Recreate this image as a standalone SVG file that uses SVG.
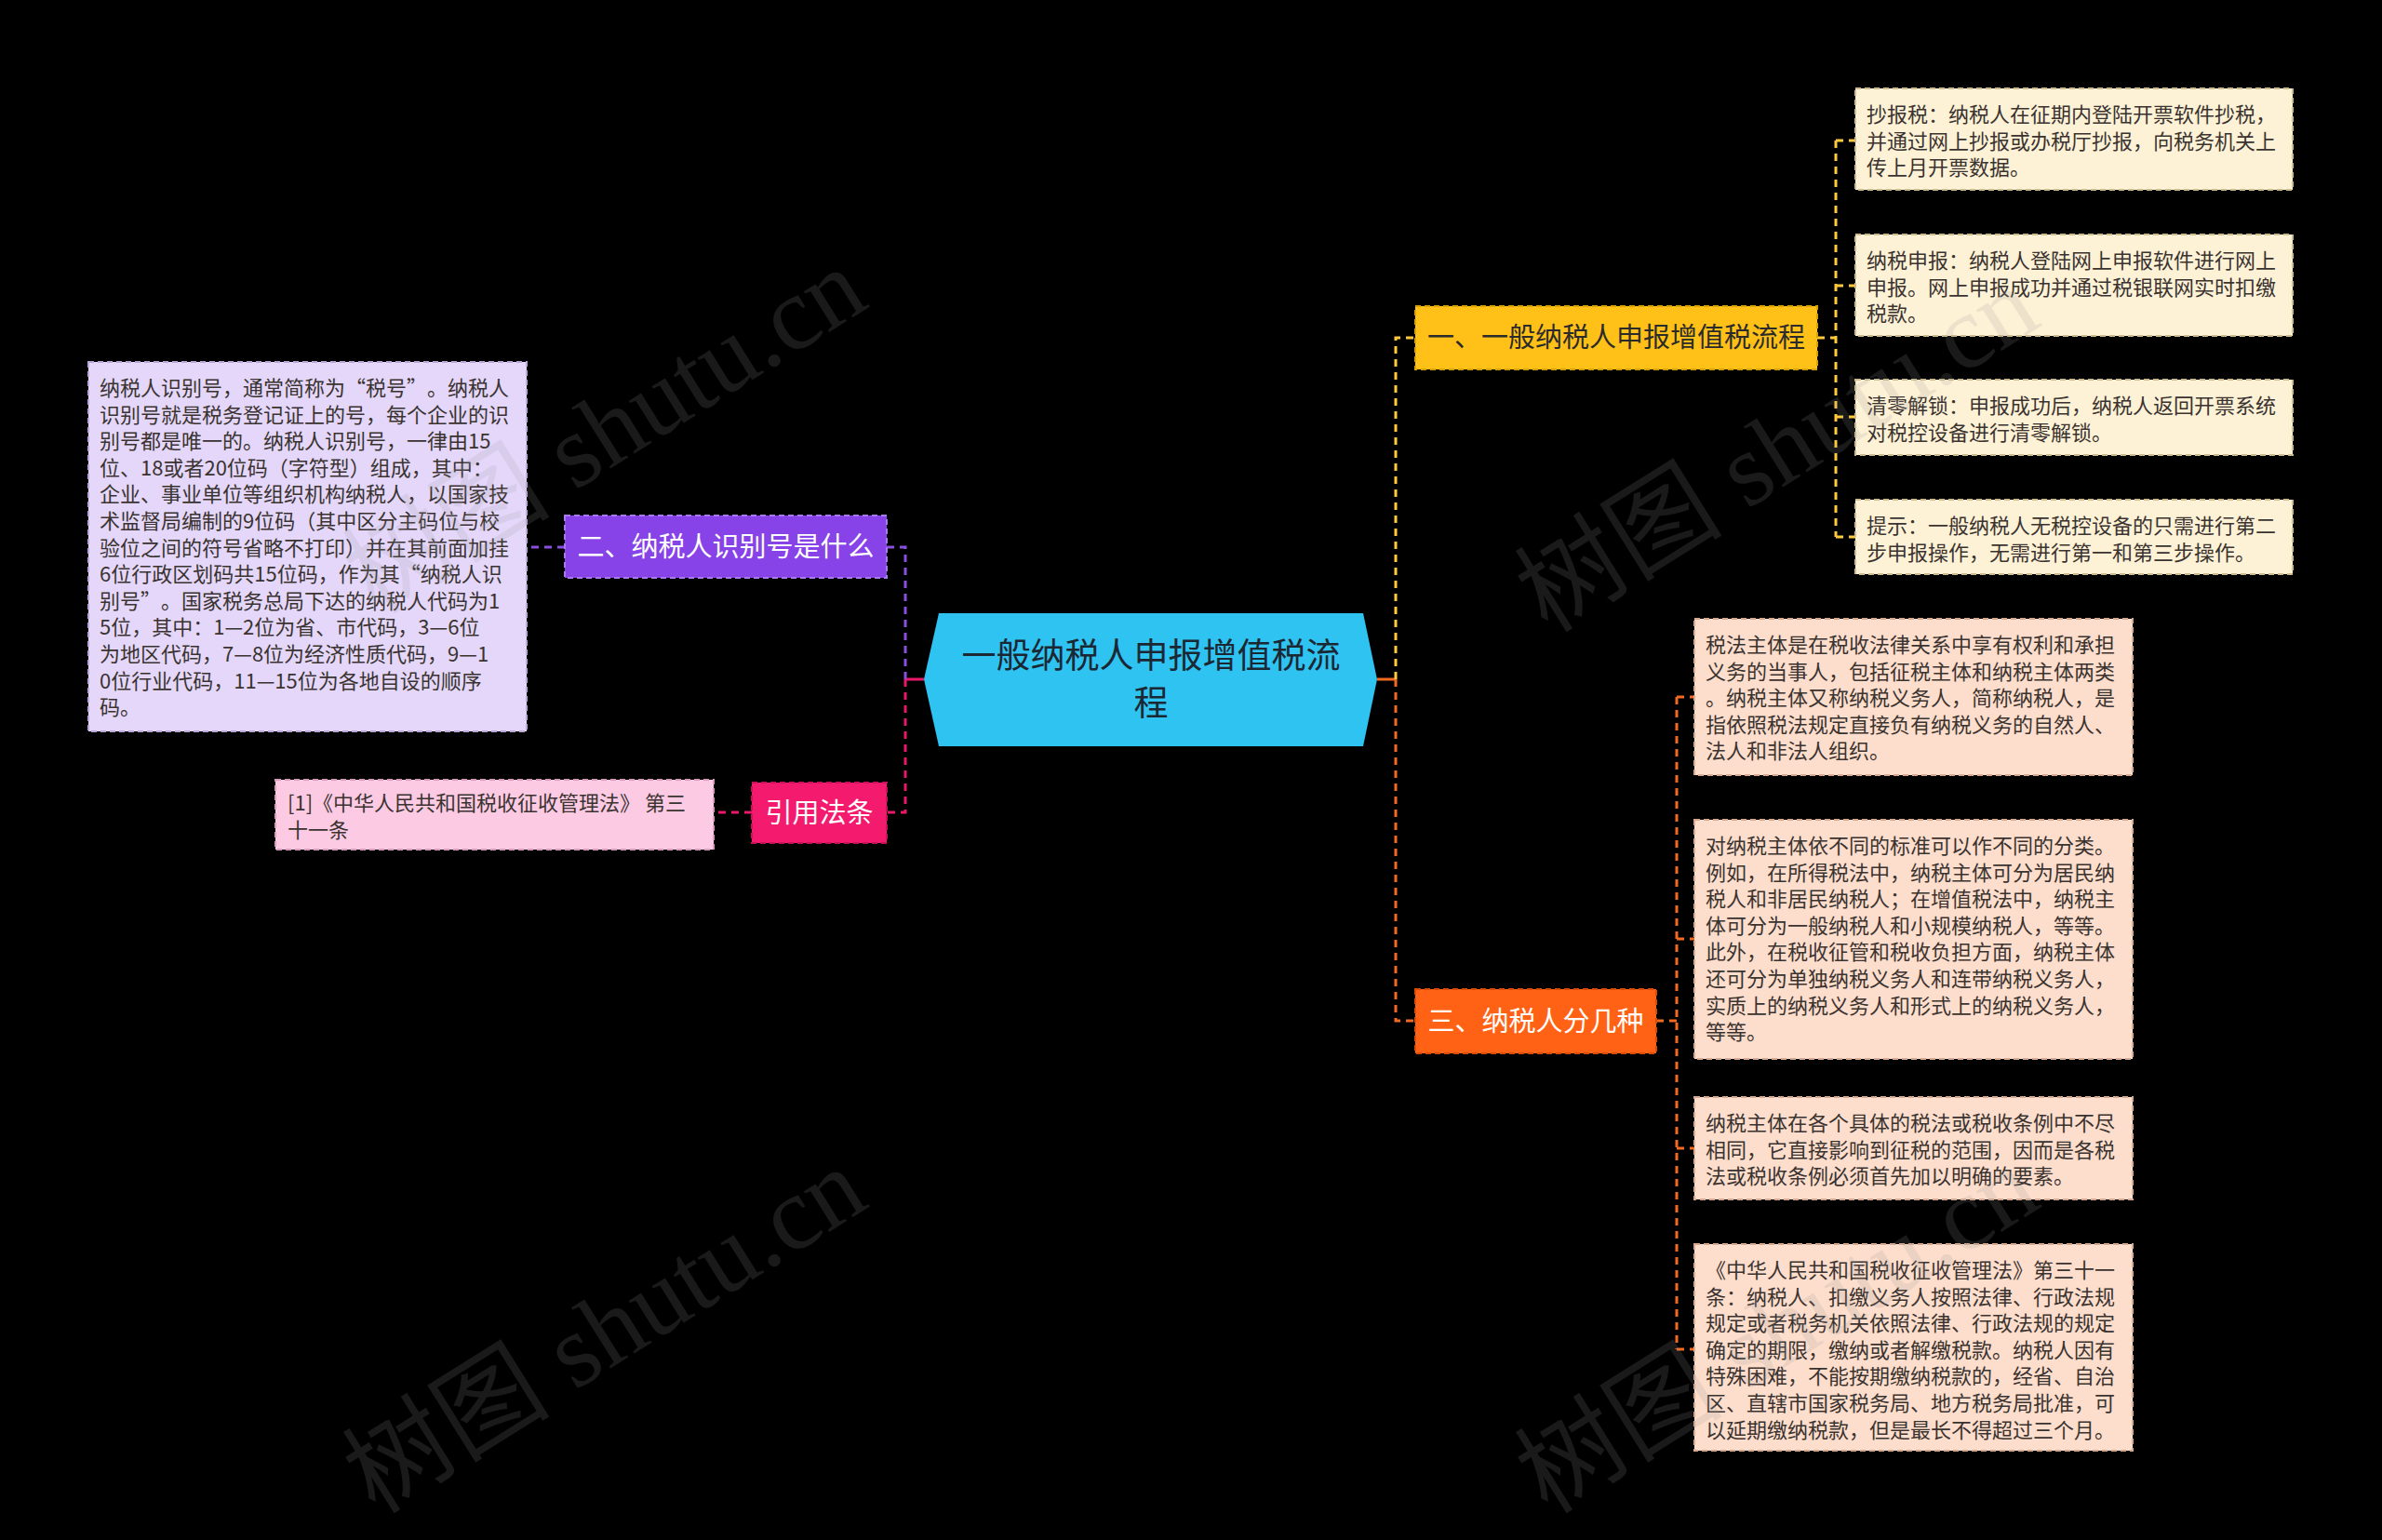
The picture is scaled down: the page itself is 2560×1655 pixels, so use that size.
<svg xmlns="http://www.w3.org/2000/svg" width="2560" height="1655" viewBox="0 0 2560 1655">
<style>
text{font-family:"Noto Sans CJK SC","Noto Sans",sans-serif;text-spacing-trim:space-all}
.l1{font-size:29px;text-anchor:middle}
.det{font-size:22px;fill:#3a3330}
.conn{fill:none;stroke-width:3;stroke-dasharray:8 6}
.stub{fill:none;stroke-width:3}
.box{stroke-width:2;stroke-dasharray:6 4}
.wm{font-family:"Liberation Serif","Noto Sans CJK SC",serif;font-size:112px;fill:#9a9a9a;opacity:0.17;text-anchor:middle}
</style>
<rect width="2560" height="1655" fill="#000"/>
<g id="connectors">
  <path class="stub" d="M993 730H973" stroke="#E8196B"/>
  <path class="conn" d="M973 730V588H953" stroke="#8A4FE0"/>
  <path class="conn" d="M973 730V873H953" stroke="#E8196B"/>
  <path class="conn" d="M607 588H566" stroke="#8A4FE0"/>
  <path class="conn" d="M808 873H767" stroke="#E8196B"/>
  <path class="stub" d="M1480 730H1500" stroke="#F26A22"/>
  <path class="conn" d="M1500 730V363H1521" stroke="#FFC93A"/>
  <path class="conn" d="M1500 730V1097H1521" stroke="#F26A22"/>
  <path class="conn" d="M1953 363H1973M1973 151V577M1973 151H1994M1973 307H1994M1973 448H1994M1973 577H1994" stroke="#FFC93A"/>
  <path class="conn" d="M1780 1097H1802M1802 749V1450M1802 749H1821M1802 1009H1821M1802 1234H1821M1802 1450H1821" stroke="#F26A22"/>
</g>
<g id="center">
  <polygon points="993,730 1009,659 1465,659 1480,730 1465,802 1009,802" fill="#2FC3F2"/>
  <text x="1237" y="718" font-size="37" text-anchor="middle" fill="#1b2833">一般纳税人申报增值税流</text>
  <text x="1237" y="769" font-size="37" text-anchor="middle" fill="#1b2833">程</text>
</g>
<g id="n1">
  <rect class="box" x="1521" y="329" width="432" height="68" fill="#FFC017" stroke="#D9A200"/>
  <text class="l1" x="1737" y="373" fill="#2b2b2b">一、一般纳税人申报增值税流程</text>
</g>
<g id="n1a">
  <rect class="box" x="1994" y="95" width="470" height="109" fill="#FEF2D6" stroke="#CDBB8E"/>
  <text class="det"><tspan x="2006" y="131">抄报税：纳税人在征期内登陆开票软件抄税，</tspan><tspan x="2006" y="159.6">并通过网上抄报或办税厅抄报，向税务机关上</tspan><tspan x="2006" y="188.2">传上月开票数据。</tspan></text>
</g>
<g id="n1b">
  <rect class="box" x="1994" y="252" width="470" height="109" fill="#FEF2D6" stroke="#CDBB8E"/>
  <text class="det"><tspan x="2006" y="288">纳税申报：纳税人登陆网上申报软件进行网上</tspan><tspan x="2006" y="316.6">申报。网上申报成功并通过税银联网实时扣缴</tspan><tspan x="2006" y="345.2">税款。</tspan></text>
</g>
<g id="n1c">
  <rect class="box" x="1994" y="408" width="470" height="81" fill="#FEF2D6" stroke="#CDBB8E"/>
  <text class="det"><tspan x="2006" y="444">清零解锁：申报成功后，纳税人返回开票系统</tspan><tspan x="2006" y="472.6">对税控设备进行清零解锁。</tspan></text>
</g>
<g id="n1d">
  <rect class="box" x="1994" y="537" width="470" height="80" fill="#FEF2D6" stroke="#CDBB8E"/>
  <text class="det"><tspan x="2006" y="573">提示：一般纳税人无税控设备的只需进行第二</tspan><tspan x="2006" y="601.6">步申报操作，无需进行第一和第三步操作。</tspan></text>
</g>
<g id="n2">
  <rect class="box" x="607" y="554" width="346" height="67" fill="#8743E8" stroke="#A77AF0"/>
  <text class="l1" x="780" y="598" fill="#fff">二、纳税人识别号是什么</text>
</g>
<g id="n2a">
  <rect class="box" x="95" y="389" width="471" height="397" fill="#E4D7FA" stroke="#B9A6DA"/>
  <text class="det"><tspan x="107" y="425">纳税人识别号，通常简称为“税号”。纳税人</tspan><tspan x="107" y="453.6">识别号就是税务登记证上的号，每个企业的识</tspan><tspan x="107" y="482.2">别号都是唯一的。纳税人识别号，一律由15</tspan><tspan x="107" y="510.8">位、18或者20位码（字符型）组成，其中：</tspan><tspan x="107" y="539.4">企业、事业单位等组织机构纳税人，以国家技</tspan><tspan x="107" y="568">术监督局编制的9位码（其中区分主码位与校</tspan><tspan x="107" y="596.6">验位之间的符号省略不打印）并在其前面加挂</tspan><tspan x="107" y="625.2">6位行政区划码共15位码，作为其“纳税人识</tspan><tspan x="107" y="653.8">别号”。国家税务总局下达的纳税人代码为1</tspan><tspan x="107" y="682.4">5位，其中：1—2位为省、市代码，3—6位</tspan><tspan x="107" y="711">为地区代码，7—8位为经济性质代码，9—1</tspan><tspan x="107" y="739.6">0位行业代码，11—15位为各地自设的顺序</tspan><tspan x="107" y="768.2">码。</tspan></text>
</g>
<g id="n3">
  <rect class="box" x="808" y="841" width="145" height="65" fill="#F41A6E" stroke="#C9105A"/>
  <text class="l1" x="880.5" y="884" fill="#fff">引用法条</text>
</g>
<g id="n3a">
  <rect class="box" x="296" y="838" width="471" height="75" fill="#FCCAE3" stroke="#D99BBD"/>
  <text class="det"><tspan x="309" y="871">[1]《中华人民共和国税收征收管理法》 第三</tspan><tspan x="309" y="899.6">十一条</tspan></text>
</g>
<g id="n4">
  <rect class="box" x="1521" y="1063" width="259" height="69" fill="#FF6214" stroke="#D94B05"/>
  <text class="l1" x="1650.5" y="1108" fill="#fff">三、纳税人分几种</text>
</g>
<g id="n4a">
  <rect class="box" x="1821" y="665" width="471" height="168" fill="#FDDDCB" stroke="#D6A990"/>
  <text class="det"><tspan x="1833" y="701">税法主体是在税收法律关系中享有权利和承担</tspan><tspan x="1833" y="729.6">义务的当事人，包括征税主体和纳税主体两类</tspan><tspan x="1833" y="758.2">。纳税主体又称纳税义务人，简称纳税人，是</tspan><tspan x="1833" y="786.8">指依照税法规定直接负有纳税义务的自然人、</tspan><tspan x="1833" y="815.4">法人和非法人组织。</tspan></text>
</g>
<g id="n4b">
  <rect class="box" x="1821" y="881" width="471" height="257" fill="#FDDDCB" stroke="#D6A990"/>
  <text class="det"><tspan x="1833" y="917">对纳税主体依不同的标准可以作不同的分类。</tspan><tspan x="1833" y="945.6">例如，在所得税法中，纳税主体可分为居民纳</tspan><tspan x="1833" y="974.2">税人和非居民纳税人；在增值税法中，纳税主</tspan><tspan x="1833" y="1002.8">体可分为一般纳税人和小规模纳税人，等等。</tspan><tspan x="1833" y="1031.4">此外，在税收征管和税收负担方面，纳税主体</tspan><tspan x="1833" y="1060">还可分为单独纳税义务人和连带纳税义务人，</tspan><tspan x="1833" y="1088.6">实质上的纳税义务人和形式上的纳税义务人，</tspan><tspan x="1833" y="1117.2">等等。</tspan></text>
</g>
<g id="n4c">
  <rect class="box" x="1821" y="1179" width="471" height="110" fill="#FDDDCB" stroke="#D6A990"/>
  <text class="det"><tspan x="1833" y="1215">纳税主体在各个具体的税法或税收条例中不尽</tspan><tspan x="1833" y="1243.6">相同，它直接影响到征税的范围，因而是各税</tspan><tspan x="1833" y="1272.2">法或税收条例必须首先加以明确的要素。</tspan></text>
</g>
<g id="n4d">
  <rect class="box" x="1821" y="1337" width="471" height="222" fill="#FDDDCB" stroke="#D6A990"/>
  <text class="det"><tspan x="1833" y="1373">《中华人民共和国税收征收管理法》第三十一</tspan><tspan x="1833" y="1401.6">条：纳税人、扣缴义务人按照法律、行政法规</tspan><tspan x="1833" y="1430.2">规定或者税务机关依照法律、行政法规的规定</tspan><tspan x="1833" y="1458.8">确定的期限，缴纳或者解缴税款。纳税人因有</tspan><tspan x="1833" y="1487.4">特殊困难，不能按期缴纳税款的，经省、自治</tspan><tspan x="1833" y="1516">区、直辖市国家税务局、地方税务局批准，可</tspan><tspan x="1833" y="1544.6">以延期缴纳税款，但是最长不得超过三个月。</tspan></text>
</g>
<g id="watermark">
  <text class="wm" transform="translate(670,495) rotate(-32)">树图 shutu.cn</text>
  <text class="wm" transform="translate(1930,515) rotate(-32)">树图 shutu.cn</text>
  <text class="wm" transform="translate(670,1462) rotate(-32)">树图 shutu.cn</text>
  <text class="wm" transform="translate(1930,1462) rotate(-32)">树图 shutu.cn</text>
</g>
</svg>
